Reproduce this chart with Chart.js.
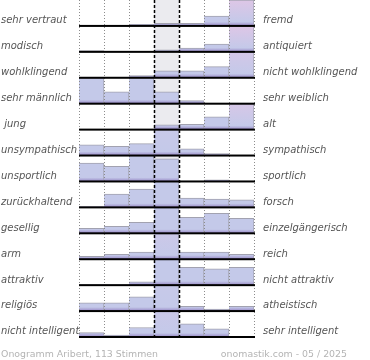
<!DOCTYPE html>
<html><head><meta charset="utf-8">
<script src="https://cdn.jsdelivr.net/npm/chart.js@4/dist/chart.umd.min.js"></script>
<style>html,body{margin:0;padding:0;background:#fff;}canvas{display:block;}</style>
</head><body>
<canvas id="c" width="370" height="360"></canvas>
<script>
// ---- data (percent of votes per scale position, 1..7) ----
const categories = ['1', '2', '3', '4', '5', '6', '7'];
const leftLabels = ['sehr vertraut', 'modisch', 'wohlklingend', 'sehr männlich', ' jung', 'unsympathisch',
  'unsportlich', 'zurückhaltend', 'gesellig', 'arm', 'attraktiv', 'religiös', 'nicht intelligent'];
const rightLabels = ['fremd', 'antiquiert', 'nicht wohlklingend', 'sehr weiblich', 'alt', 'sympathisch',
  'sportlich', 'forsch', 'einzelgängerisch', 'reich', 'nicht attraktiv', 'atheistisch', 'sehr intelligent'];
const rowVertraut     = [0, 0, 4, 6, 6, 23, 61];
const rowModisch      = [3, 0, 0, 5, 9, 19, 64];
const rowWohlklingend = [0, 0, 4, 13, 13, 21, 49];
const rowMaennlich    = [33, 15, 33, 15, 4, 0, 0];
const rowJung         = [0, 0, 0, 10, 11, 26, 53];
const rowSympathisch  = [16, 14, 18, 39, 10, 3, 0];
const rowSportlich    = [22, 18, 31, 27, 0, 2, 0];
const rowForsch       = [1, 16, 22, 31, 11, 10, 9];
const rowGesellig     = [5, 7, 11, 26, 16, 20, 15];
const rowReich        = [5, 8, 12, 43, 12, 12, 8];
const rowAttraktiv    = [0, 0, 4, 32, 22, 20, 22];
const rowReligioes    = [12, 12, 21, 38, 7, 3, 7];
const rowIntelligent  = [7, 3, 15, 41, 21, 13, 0];
const footerLeft = 'Onogramm Aribert, 113 Stimmen';
const footerRight = 'onomastik.com - 05 / 2025';

const rows = [rowVertraut, rowModisch, rowWohlklingend, rowMaennlich, rowJung, rowSympathisch,
  rowSportlich, rowForsch, rowGesellig, rowReich, rowAttraktiv, rowReligioes, rowIntelligent];

// ---- styling helpers ----
const BLUE = [196, 201, 233], PINK = [222, 198, 230], PURPLE = [150, 134, 196];
const rgb = c => `rgb(${c.map(Math.round).join(',')})`;
const mix = (a, b, t) => a.map((v, i) => v + (b[i] - v) * t);

function barFill(ctx) {
  const chart = ctx.chart;
  if (!chart.chartArea) return rgb(BLUE);
  const ds = ctx.dataset, s = chart.scales[ds.yAxisID];
  const v = ctx.raw || 0;
  const top = s.getPixelForValue(v), base = s.getPixelForValue(0);
  const h = base - top;
  if (h < 1) return rgb(PURPLE);
  const t = Math.max(0, Math.min(1, (v - 35) / 25));
  const g = chart.ctx.createLinearGradient(0, top, 0, base);
  g.addColorStop(0, rgb(mix(BLUE, PINK, t)));
  g.addColorStop(Math.max(0, 1 - 4 / h), rgb(BLUE));
  g.addColorStop(1, rgb(PURPLE));
  return g;
}

const scales = {
  x: { type: 'category', labels: categories, display: false, offset: true, grid: { display: false } }
};
rows.forEach((r, i) => {
  scales['y' + i] = { type: 'linear', position: 'right', stack: 'rows', stackWeight: 1,
    min: 0, max: Math.max(...r), display: false };
});

const datasets = rows.map((r, i) => ({
  data: r,
  yAxisID: 'y' + i,
  grouped: false,
  barPercentage: 1,
  categoryPercentage: 1,
  backgroundColor: barFill,
  borderColor: '#a2a2b0',
  borderWidth: c => (c.raw > 0 ? { top: 1, right: 1, left: 0, bottom: 0 } : 0),
  borderSkipped: 'bottom'
}));

const decor = {
  id: 'decor',
  beforeDatasetsDraw(chart) {
    const { ctx, chartArea: a, scales: { x } } = chart;
    const w = x.getPixelForValue(1) - x.getPixelForValue(0);
    const cx = x.getPixelForValue(3);
    ctx.save();
    ctx.fillStyle = '#ebebef';
    ctx.fillRect(cx - w / 2, a.top, w, a.bottom - a.top);
    ctx.restore();
  },
  afterDatasetsDraw(chart) {
    const { ctx, chartArea: a, scales: { x } } = chart;
    const w = x.getPixelForValue(1) - x.getPixelForValue(0);
    const x0 = x.getPixelForValue(0) - w / 2;
    ctx.save();
    for (let i = 0; i <= categories.length; i++) {
      const px = Math.round(x0 + i * w) + 0.5;
      ctx.beginPath();
      if (i === 3 || i === 4) {
        ctx.strokeStyle = '#000'; ctx.lineWidth = 1.5; ctx.setLineDash([3, 2]);
      } else {
        ctx.strokeStyle = '#8c8c8c'; ctx.lineWidth = 1; ctx.setLineDash([1, 2]);
      }
      ctx.moveTo(px, a.top); ctx.lineTo(px, a.bottom);
      ctx.stroke();
    }
    ctx.setLineDash([]);
    ctx.fillStyle = '#000';
    rows.forEach((r, i) => {
      const y = chart.scales['y' + i].getPixelForValue(0);
      ctx.fillRect(a.left, y - 1, a.right - a.left + 1, 2);
    });
    ctx.restore();
  },
  afterDraw(chart) {
    const { ctx, chartArea: a } = chart;
    ctx.save();
    ctx.font = 'italic 10px "DejaVu Sans"';
    ctx.fillStyle = '#555555';
    ctx.textBaseline = 'alphabetic';
    rows.forEach((r, i) => {
      const y = chart.scales['y' + i].getPixelForValue(0) - 2.6;
      ctx.textAlign = 'left';
      ctx.fillText(leftLabels[i], 1, y);
      ctx.fillText(rightLabels[i], 263, y);
    });
    ctx.font = '9.4px "DejaVu Sans"';
    ctx.fillStyle = '#b4b4b4';
    ctx.textAlign = 'left';
    ctx.fillText(footerLeft, 1, 356.5);
    ctx.textAlign = 'right';
    ctx.fillText(footerRight, 347, 356.5);
    ctx.restore();
  }
};

new Chart(document.getElementById('c'), {
  type: 'bar',
  data: { labels: categories, datasets },
  options: {
    responsive: false,
    devicePixelRatio: 1,
    animation: false,
    layout: { padding: { left: 79, right: 116, top: 0, bottom: 23 } },
    plugins: { legend: { display: false }, tooltip: { enabled: false } },
    scales
  },
  plugins: [decor]
});
</script>
</body></html>
